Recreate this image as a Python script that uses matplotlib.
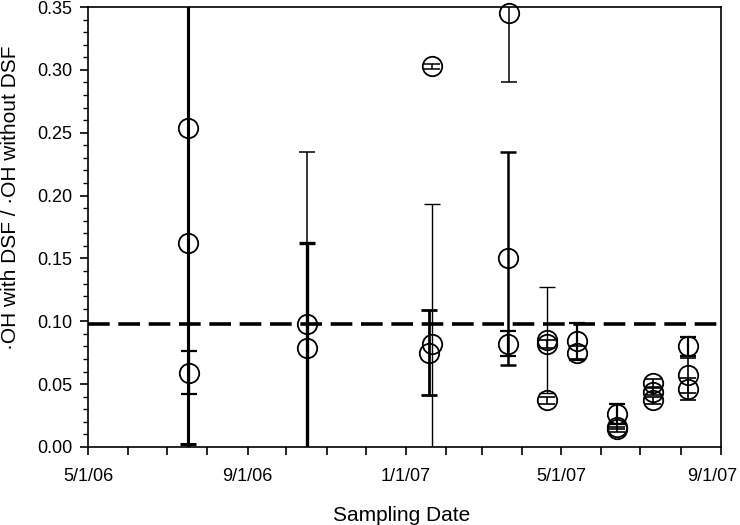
import matplotlib
matplotlib.use("Agg")
import matplotlib.pyplot as plt
import matplotlib.dates as mdates
import matplotlib.transforms as mtransforms
import numpy as np
from datetime import datetime

# sampling dates (one entry per measurement)
sample_dates = [
    "2006-07-17", "2006-07-17", "2006-07-18",
    "2006-10-17", "2006-10-17",
    "2007-01-21", "2007-01-21", "2007-01-19",
    "2007-03-22", "2007-03-21", "2007-03-21",
    "2007-04-20", "2007-04-20", "2007-04-20",
    "2007-05-13", "2007-05-13",
    "2007-06-13", "2007-06-13", "2007-06-13",
    "2007-07-11", "2007-07-11", "2007-07-11",
    "2007-08-07", "2007-08-07", "2007-08-07",
]
ratio = [
    0.254, 0.162, 0.059,
    0.098, 0.079,
    0.303, 0.082, 0.075,
    0.345, 0.150, 0.082,
    0.085, 0.082, 0.037,
    0.084, 0.075,
    0.026, 0.016, 0.014,
    0.051, 0.044, 0.037,
    0.080, 0.057, 0.046,
]
ratio_err = [
    0.252, 0.200, 0.017,
    0.137, 0.083,
    0.002, 0.111, 0.034,
    0.055, 0.085, 0.010,
    0.042, 0.003, 0.003,
    0.015, 0.005,
    0.008, 0.002, 0.002,
    0.003, 0.003, 0.003,
    0.0075, 0.014, 0.009,
]
bar_width = [
    2.2, 2.2, 1.6,
    1.1, 2.4,
    1.1, 1.0, 2.0,
    1.1, 1.8, 1.6,
    1.0, 1.2, 1.2,
    1.6, 1.2,
    1.6, 1.2, 1.2,
    1.2, 1.2, 1.2,
    1.6, 1.2, 1.2,
]
major_ticks = ["2006-05-01", "2006-09-01", "2007-01-01", "2007-05-01", "2007-09-01"]
major_labels = ["5/1/06", "9/1/06", "1/1/07", "5/1/07", "9/1/07"]
reference_ratio = 0.098

plt.rcParams["font.family"] = ["Liberation Sans", "DejaVu Sans"]

dates = [datetime.strptime(s, "%Y-%m-%d") for s in sample_dates]
tick_dates = [datetime.strptime(s, "%Y-%m-%d") for s in major_ticks]

fig = plt.figure(figsize=(7.4, 5.25), dpi=100)
ax = fig.add_axes([0.119, 0.1486, 0.855, 0.838])

# dashed reference line
ax.axhline(reference_ratio, color="k", lw=2.6, ls=(0, (6, 2.4)), zorder=1)

for d, v, e, lw in zip(dates, ratio, ratio_err, bar_width):
    ax.errorbar(d, v, yerr=e, fmt="none", ecolor="k", elinewidth=lw,
                capsize=5.5, capthick=lw, zorder=2)

ax.plot(dates, ratio, "o", ms=14, mfc="none", mec="k", mew=1.3,
        clip_on=False, zorder=3)

ax.set_xlim(datetime(2006, 5, 1), datetime(2007, 9, 1))
ax.set_ylim(0, 0.35)

ax.set_xticks(tick_dates, major_labels)
ax.xaxis.set_minor_locator(mdates.MonthLocator())
ax.set_yticks(np.arange(0, 0.351, 0.05))
ax.set_yticks(np.arange(0, 0.351, 0.01), minor=True)
ax.yaxis.set_major_formatter(plt.FormatStrFormatter("%.2f"))

ax.tick_params(axis="both", which="major", direction="out", length=6, width=1.2,
               labelsize=13, colors="k")
ax.tick_params(axis="x", which="major", pad=9)
ax.tick_params(axis="y", which="major", pad=5.5)
ax.tick_params(axis="x", which="minor", direction="out", length=6, width=1.2)
ax.tick_params(axis="y", which="minor", direction="out", length=3.5, width=1.0)
for sp in ax.spines.values():
    sp.set_linewidth(1.2)

# keep the last date label inside the figure
last = ax.get_xticklabels()[-1]
last.set_transform(last.get_transform() +
                   mtransforms.ScaledTranslation(-9 / 100, 0, fig.dpi_scale_trans))

ax.set_xlabel("Sampling Date", fontsize=15)
ax.xaxis.set_label_coords(0.496, -0.135)
ax.set_ylabel("\u00b7OH with DSF / \u00b7OH without DSF", fontsize=15)
ax.yaxis.set_label_coords(-0.108, 0.566)

fig.savefig("out.png", dpi=100)
